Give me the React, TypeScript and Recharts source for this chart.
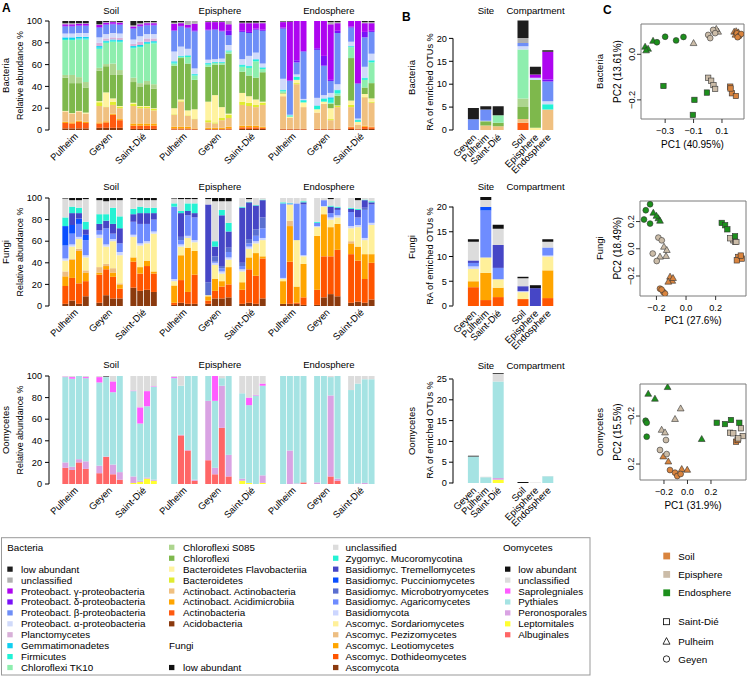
import React from 'react';
import { BarChart, Bar, XAxis, YAxis, ScatterChart, Scatter, ReferenceArea } from 'recharts';

const FONT = '"Liberation Sans", Arial, Helvetica, sans-serif';
const FS = 9.2;
const FL = 9.7;

const sites = ['Pulheim', 'Geyen', 'Saint-Dié'];
const compartments = ['Soil', 'Episphere', 'Endosphere'];
const sitesB = ['Geyen', 'Pulheim', 'Saint-Dié'];

// stack order bottom -> top
const bacteriaTaxa = ['Acidobacteria', 'Actinobacteria', 'Actinobact. Acidimicrobiia', 'Actinobact. Actinobacteria', 'Bacteroidetes', 'Bacteroidetes Flavobacteriia', 'Chloroflexi', 'Chloroflexi S085', 'Chloroflexi TK10', 'Firmicutes', 'Gemmatimonadetes', 'Planctomycetes', 'Proteobact. α-proteobacteria', 'Proteobact. β-proteobacteria', 'Proteobact. δ-proteobacteria', 'Proteobact. γ-proteobacteria', 'unclassified', 'low abundant'];
const bacteriaColors = ['#8B3A0E', '#FF5A10', '#FFA500', '#F0C080', '#E0EB30', '#FFF3A0', '#7EB84C', '#ADD58E', '#8EEEAE', '#20F2D6', '#10CFF0', '#D8B0D8', '#D0DAFA', '#6E8EF7', '#7A10F8', '#AE05F0', '#B0B0B0', '#1E1E1E'];

const fungiTaxa = ['Ascomycota', 'Ascomyc. Dothideomycetes', 'Ascomyc. Leotiomycetes', 'Ascomyc. Pezizomycetes', 'Ascomyc. Sordariomycetes', 'Basidiomycota', 'Basidiomyc. Agaricomycetes', 'Basidiomyc. Microbotryomycetes', 'Basidiomyc. Pucciniomycetes', 'Basidiomyc. Tremellomycetes', 'Zygomyc. Mucoromycotina', 'unclassified', 'low abundant'];
const fungiColors = ['#8B3A0E', '#FF5500', '#FFA500', '#EDBE82', '#FFF09A', '#CCD6FF', '#6E8CFF', '#5A6FD0', '#0A4FFF', '#4646C6', '#25F2D4', '#DCDCDC', '#111111'];

const oomycetesTaxa = ['Albuginales', 'Leptomitales', 'Peronosporales', 'Pythiales', 'Saprolegniales', 'unclassified', 'low abundant'];
const oomycetesColors = ['#FF6666', '#FFFF30', '#D9A3E3', '#A5E3E3', '#FF5CFF', '#DCDCDC', '#111111'];

// Panel A: rows = Pulheim x4, Geyen x4, Saint-Dié x4
const bacteriaSoil = [
  [1.5, 5, 1, 9.5, 0, 0.5, 30.5, 2.5, 32, 1, 1.5, 0, 3.5, 6.5, 0.5, 1.5, 1, 2],
  [1.5, 4.5, 1, 8, 0, 0.5, 27.5, 7.5, 32, 1, 1.5, 0, 3.5, 6.5, 0.5, 1.5, 1, 2],
  [1.5, 6, 1, 8.5, 0, 0.5, 25.5, 5.5, 34.5, 1, 1.5, 0, 3.5, 6.5, 0.5, 1.5, 0.5, 2],
  [1.5, 5, 1, 7.5, 0, 1, 23, 5, 39, 1, 1.5, 0, 3.5, 6.5, 0.5, 1.5, 0.5, 2],
  [2, 4, 1, 15, 3.5, 1, 28, 2.5, 17.5, 1, 1.5, 3, 5, 9, 0.5, 2, 0.5, 3],
  [2, 5, 1, 13, 0.5, 13, 24, 2, 19.5, 1, 1, 2, 4, 8.5, 0.5, 1.5, 0.5, 1],
  [2, 12, 1, 8, 3, 3, 22, 10, 20, 1, 1, 2, 4, 8, 0.5, 1.5, 0.5, 0.5],
  [2, 7, 1, 10, 1.5, 0.5, 28.5, 4.5, 25.5, 1, 1, 2, 4, 8, 0.5, 1.5, 0.5, 1],
  [1, 3, 2, 16, 2, 1, 19, 4, 27, 1, 1, 2, 4, 10, 0.5, 1.5, 1, 4],
  [1, 3, 2, 14, 1.5, 0.5, 18, 3, 33, 1, 1, 3, 5, 9, 0.5, 1.5, 1, 2],
  [1, 3, 2, 14, 1.5, 0.5, 20, 3, 34, 1, 1, 3, 4, 8, 0.5, 1.5, 1, 1],
  [1, 3, 2, 12, 1.5, 0.5, 18, 4, 37.5, 1, 1, 2.5, 4, 8, 0.5, 1.5, 1, 1],
];
const bacteriaEpisphere = [
  [0.5, 1, 1.5, 11, 0.5, 5.5, 39, 0, 2, 1, 1, 0, 9, 19, 0.5, 6, 1, 1.5],
  [0.5, 1, 1.5, 23, 0.5, 1.5, 38, 0, 1, 0.5, 0.5, 0, 8.5, 18.5, 0.5, 2.5, 1, 1],
  [0.5, 1, 1.5, 10, 0.5, 4.5, 43, 0, 6, 1, 0.5, 0, 6, 19, 0.5, 2.5, 3.5, 0],
  [0.5, 0.5, 0.5, 8.5, 0.5, 8.5, 27, 0, 4, 1, 0.5, 0, 5, 34, 1, 6, 2.5, 0],
  [0.5, 0.5, 1, 5, 2, 17, 32, 0, 2, 1, 0.5, 0, 3, 27, 0.5, 7, 0.5, 0.5],
  [0.5, 0.5, 1, 4, 1, 25, 28, 0, 1.5, 0.5, 0.5, 0, 2.5, 27, 0.5, 6.5, 0.5, 0.5],
  [0.5, 0.5, 1, 7, 2, 10, 39, 0, 1.5, 0.5, 0.5, 0, 3, 25, 0.5, 8, 0.5, 0.5],
  [0.5, 1, 1.5, 8, 3, 1, 55, 0, 2, 0.5, 0.5, 0, 5, 9, 4, 6, 3, 0],
  [1, 1.5, 1.5, 19, 3, 8, 19.5, 0, 4.5, 1.5, 0.5, 0, 5, 25, 1, 7, 0.5, 1.5],
  [1, 1.5, 1.5, 18, 3, 6, 19, 0, 7, 1.5, 0.5, 0, 9, 21, 1, 8, 0.5, 1.5],
  [1, 1.5, 1.5, 17, 2, 5, 20, 0, 15, 1.5, 0.5, 0, 6, 21, 1, 5, 0.5, 1.5],
  [1, 1, 1, 20, 2, 1, 27, 0, 3, 1, 0.5, 0, 3.5, 30, 1, 6, 1, 1],
];
const bacteriaEndosphere = [
  [0.5, 0.5, 0, 30, 0, 2.5, 0.5, 0, 1.5, 1, 0.5, 0, 10, 46, 1, 5, 0.5, 0.5],
  [0.5, 0.5, 0, 10, 0, 1, 0, 0, 0.5, 1, 0, 0, 0.5, 31, 0.5, 54, 0, 0.5],
  [0.5, 0.5, 0, 41, 1, 3, 0, 0, 0, 3, 0, 0, 2, 11, 2, 36, 0, 0],
  [0.5, 0.5, 0, 20, 0, 4, 0, 0, 0.5, 1.5, 0.5, 0, 1, 43.5, 0.5, 27.5, 0, 0],
  [0.5, 0.5, 0, 15, 0, 3, 0, 0, 0, 3, 0.5, 0, 7, 44, 1.5, 25, 0, 0],
  [0.5, 0.5, 0, 23, 0, 2, 0, 0, 0, 2.5, 0.5, 0, 3, 27, 9, 32, 0, 0],
  [0.5, 0.5, 0, 8, 1, 10, 4, 0, 1, 3.5, 1.5, 0, 4, 11, 1, 51, 2, 1],
  [0.5, 0.5, 0, 20, 1, 0.5, 9, 0, 2, 3, 0.5, 0, 5, 47, 2, 7, 1, 1],
  [1, 1.5, 0.5, 18, 2, 4, 39, 0, 10, 0.5, 0.5, 0, 4, 13, 1, 5, 0, 0],
  [0.5, 0.5, 0, 4, 0, 2.5, 0, 0, 0, 1.5, 0.5, 0, 1, 32, 0.5, 57, 0, 0],
  [1, 2, 1, 26, 0.5, 2.5, 6, 0, 7, 1.5, 0.5, 0, 10, 27, 5, 8, 1, 1],
  [1, 1.5, 0.5, 22, 1, 3, 14, 0, 19, 1.5, 0.5, 0, 6, 20, 1, 7, 1, 1],
];

const fungiSoil = [
  [2, 16.5, 9, 4.5, 10, 2, 12, 0, 18, 0, 8, 17.5, 0.5],
  [5, 21, 17, 0.5, 11.5, 2, 10, 0, 8, 11, 6, 6, 2],
  [2, 19, 30, 2, 9, 2, 12, 0, 5, 5, 5, 7, 2],
  [9, 14, 8, 2, 12, 2, 14, 0, 5, 5, 7, 21, 1],
  [3, 26, 2, 5, 27, 3, 4, 0, 0, 6, 9, 13, 2],
  [10, 24, 3, 2, 16, 2, 15, 0, 0, 7, 6, 12, 3],
  [7, 20, 4, 4, 25, 2, 5, 0, 0, 9, 15, 7, 2],
  [7, 9, 4, 1, 26, 3, 8, 0, 0, 14, 11, 15, 2],
  [17, 24, 4, 0, 19, 2, 12, 0, 0, 7, 5, 9, 1],
  [14, 16, 6, 0, 20, 2, 18, 0, 0, 10, 6, 6, 2],
  [15, 22, 5, 0, 16, 2, 16, 0, 0, 10, 5, 7, 2],
  [13, 17, 2, 0, 35, 2, 11, 0, 0, 6, 5, 7, 2],
];
const fungiEpisphere = [
  [1, 2, 16, 0, 4, 2, 67, 0, 0, 0, 3, 4.5, 0.5],
  [3, 21, 23, 0, 8, 2, 4, 3, 0, 22, 2, 11, 1],
  [2, 11, 41, 0, 9, 2, 19, 0, 0, 4, 7, 4, 1],
  [2, 27, 22, 0, 8, 2, 21, 0, 0, 4, 9, 4, 1],
  [2, 3, 4, 0, 1, 0, 0, 12, 0, 72, 0, 5, 1],
  [7, 7, 11, 0, 13, 2, 1, 5, 0, 9, 5, 37, 3],
  [7, 11, 5, 0, 7, 2, 3, 2, 0, 47, 5, 8, 3],
  [8, 12, 16, 0, 7, 2, 5, 4, 0, 15, 8, 20, 3],
  [2, 13, 7, 0, 10, 2, 3, 3, 0, 51, 1, 8, 0],
  [3, 31, 11, 0, 8, 2, 3, 4, 0, 34, 0.5, 2.5, 1],
  [2, 26, 21, 0, 9, 2, 5, 6, 0, 22, 0.5, 6.5, 0],
  [7, 37, 2, 0, 15, 2, 9, 10, 0, 16, 0.5, 1.5, 0],
];
const fungiEndosphere = [
  [2, 0, 21, 0, 2, 1, 69, 0, 0, 0, 1, 4, 0],
  [2, 39, 33, 5, 15, 0, 1, 0, 0, 0, 0.5, 4.5, 0],
  [2, 1, 15, 0, 43, 0, 34, 0, 0, 0, 0, 5, 0],
  [1, 7, 31, 0, 7, 1, 47, 0, 0, 2, 1, 3, 0],
  [1, 14, 50, 0, 8, 1, 3, 0, 0, 0, 1, 22, 0],
  [8, 38, 39, 0, 7, 0.5, 5.5, 0, 0, 0, 0, 2, 0],
  [11, 35, 27, 0, 7, 2, 4, 0, 0, 6, 1, 6, 1],
  [9, 43, 24, 0, 6, 2, 5, 0, 0, 2, 1, 8, 0],
  [3, 45, 10, 2, 12, 2, 13, 0, 0, 3, 1, 9, 0],
  [4, 38, 13, 0, 18, 2, 7, 0, 0, 7, 1, 8, 2],
  [3, 22, 23, 0, 13, 2, 26, 2, 0, 7, 0.5, 1.5, 0],
  [6, 34, 8, 0, 27, 2, 17, 0, 0, 2, 1, 3, 0],
];

const oomycetesSoil = [
  [15, 0, 5, 79, 0.5, 0.5, 0],
  [13, 0, 3, 81.5, 1.5, 1, 0],
  [20, 0, 3, 77, 0, 0, 0],
  [14, 0, 7, 77, 1, 1, 0],
  [10, 0, 7, 77, 5, 1, 0],
  [25, 0, 0.5, 73.5, 0, 0.5, 0.5],
  [9, 0, 9, 67, 10, 5, 0],
  [4, 0, 7, 89, 0, 0, 0],
  [0, 1, 6, 79, 0.5, 13.5, 0],
  [0, 2, 1, 53, 15, 29, 0],
  [0, 5, 1, 66, 14, 14, 0],
  [0, 3, 1, 86, 0.5, 9.5, 0],
];
const oomycetesEpisphere = [
  [0, 0, 0, 98, 1, 1, 0],
  [45, 0, 0.5, 45.5, 0, 9, 0],
  [31, 0, 0.5, 68.5, 0, 0, 0],
  [3, 0, 1, 96, 0, 0, 0],
  [22, 0, 55, 23, 0, 0, 0],
  [9, 0, 6, 62, 23, 0, 0],
  [52, 0, 39, 7, 0, 2, 0],
  [7, 0, 20, 73, 0, 0, 0],
  [0, 3, 2, 79, 0, 16, 0],
  [0, 1, 0, 72, 7, 20, 0],
  [0, 0, 0, 82, 0.5, 17.5, 0],
  [0, 1, 7, 83, 2, 7, 0],
];
const oomycetesEndosphere = [
  [0, 0, 0, 100, 0, 0, 0],
  [0, 0, 31, 69, 0, 0, 0],
  [0, 0, 0.5, 99.5, 0, 0, 0],
  [1.5, 0, 0, 98.5, 0, 0, 0],
  [0, 0, 1.5, 98.5, 0, 0, 0],
  [0, 0, 0, 100, 0, 0, 0],
  [7, 0, 75, 17, 0, 1, 0],
  [3, 0, 2, 95, 0, 0, 0],
  [0, 0, 0, 87, 0, 13, 0],
  [0, 0, 0.5, 92.5, 0, 7, 0],
  [0, 0, 1, 96, 0, 3, 0],
  [0, 0, 0, 97, 0, 3, 0],
];

// Panel B: RA of enriched OTUs (%), sites Geyen, Pulheim, Saint-Dié ; compartments Soil, Episphere, Endosphere
const bacteriaEnrichedSite = [
  [0, 0, 0, 0, 0, 0, 0, 0, 0, 0, 0, 0, 0, 2.35, 0, 0, 0, 2.45],
  [0, 0, 0, 1.0, 0, 0, 0.9, 0, 0, 0, 0, 0, 0.1, 2.5, 0, 0, 0, 0.7],
  [0, 0, 0, 0.8, 0, 0, 0.8, 0, 1.6, 0, 0, 0, 0, 0, 0, 0, 0, 2.0],
];
const bacteriaEnrichedCompartment = [
  [0, 1.6, 0, 0.8, 0, 0, 2.6, 1.9, 10.7, 0, 0, 0, 0.7, 0.7, 0, 0, 1.1, 3.8],
  [0, 0, 0, 0, 0, 0.5, 10.4, 0, 0, 0, 0, 0, 0.5, 0, 0, 0.7, 0, 1.7],
  [0, 0, 0, 4.5, 0, 0, 0, 0, 0, 1.1, 0, 0, 0.7, 4.3, 0.4, 6.1, 0, 0.3],
];
const fungiEnrichedSite = [
  [0, 3.8, 1.2, 0, 2.5, 0.5, 0.7, 0, 0, 0.5, 0, 3.8, 0.5],
  [0, 1.2, 5.5, 0, 3.1, 0, 9.5, 0, 0.7, 0, 0, 1.4, 0.6],
  [0, 1.8, 1.9, 0, 1.7, 0, 2.3, 0, 0, 4.6, 0, 3.3, 0.8],
];
const fungiEnrichedCompartment = [
  [0, 1.4, 0, 0, 1.4, 0.2, 0, 0, 0, 1.0, 0, 1.6, 0.3],
  [0, 0, 0, 0, 0, 0, 0, 0, 0, 3.6, 0, 0, 0.6],
  [0, 1.6, 5.6, 0, 2.8, 0.2, 1.6, 0, 0, 0, 0, 1.2, 0.5],
];
const oomycetesEnrichedSite = [
  [0, 0, 0, 6.4, 0, 0, 0.15],
  [0, 0, 0, 1.4, 0, 0.1, 0],
  [0, 0.8, 0.4, 23.2, 0, 1.8, 0.2],
];
const oomycetesEnrichedCompartment = [
  [0, 0, 0, 0, 0, 0, 0.25],
  [0, 0, 0, 0, 0, 0.1, 0],
  [0, 0, 0, 1.6, 0, 0.1, 0],
];

// Panel C: [compartment (0 Soil,1 Episphere,2 Endosphere), site (0 Pulheim,1 Geyen,2 Saint-Dié), PC1, PC2]
const bacteriaPC = [
  [2, 0, -0.441, 0.032], [2, 0, -0.42, 0.023], [2, 0, -0.434, 0.016], [2, 0, -0.385, 0.058],
  [2, 1, -0.358, 0.053], [2, 1, -0.3, 0.077], [2, 1, -0.223, 0.061], [2, 1, -0.171, 0.076],
  [2, 2, -0.312, -0.139], [2, 2, -0.094, -0.2], [2, 2, -0.006, -0.168], [2, 2, -0.105, -0.266],
  [1, 0, -0.1, 0.048], [1, 0, 0.052, 0.102], [1, 0, 0.073, 0.098], [1, 0, 0.06, 0.11],
  [1, 1, 0.003, 0.085], [1, 1, 0.017, 0.071], [1, 1, 0.038, 0.107], [1, 1, 0.052, 0.093],
  [1, 2, 0.003, -0.103], [1, 2, 0.024, -0.116], [1, 2, 0.04, -0.135], [1, 2, 0.052, -0.152],
  [0, 0, 0.186, 0.098], [0, 0, 0.2, 0.1], [0, 0, 0.215, 0.095], [0, 0, 0.195, 0.085],
  [0, 1, 0.205, 0.092], [0, 1, 0.221, 0.08], [0, 1, 0.235, 0.089], [0, 1, 0.21, 0.075],
  [0, 2, 0.158, -0.142], [0, 2, 0.17, -0.171], [0, 2, 0.198, -0.183], [0, 2, 0.16, -0.15],
];
const fungiPC = [
  [2, 1, -0.243, 0.327], [2, 1, -0.272, 0.283], [2, 1, -0.284, 0.215], [2, 1, -0.243, 0.185],
  [2, 0, -0.221, 0.263], [2, 0, -0.187, 0.222], [2, 0, -0.176, 0.204], [2, 0, -0.2, 0.24],
  [2, 2, 0.241, 0.19], [2, 2, 0.264, 0.173], [2, 2, 0.279, 0.143], [2, 2, 0.331, 0.092],
  [1, 1, -0.187, 0.082], [1, 1, -0.225, -0.035], [1, 1, -0.198, -0.09], [1, 1, -0.164, 0.062],
  [1, 0, -0.149, 0.013], [1, 0, -0.13, -0.011], [1, 0, -0.135, -0.055], [1, 0, -0.176, -0.06],
  [1, 2, 0.32, 0.062], [1, 2, 0.331, 0.05], [1, 2, 0.297, 0.077], [1, 2, 0.34, 0.05],
  [0, 0, -0.108, -0.207], [0, 0, -0.093, -0.237], [0, 0, -0.12, -0.244], [0, 0, -0.088, -0.217],
  [0, 1, -0.176, -0.293], [0, 1, -0.153, -0.318], [0, 1, -0.142, -0.329], [0, 1, -0.165, -0.3],
  [0, 2, 0.353, -0.06], [0, 2, 0.376, -0.072], [0, 2, 0.343, -0.085], [0, 2, 0.37, -0.05],
];
const oomycetesPC = [
  [2, 0, -0.334, -0.383], [2, 0, -0.277, -0.342], [2, 0, -0.169, -0.439], [2, 0, 0.121, -0.006],
  [2, 1, -0.356, -0.161], [2, 1, -0.347, -0.144], [2, 1, -0.347, -0.028],
  [2, 2, 0.249, -0.144], [2, 2, 0.319, -0.133], [2, 2, 0.37, -0.167], [2, 2, 0.441, -0.144],
  [1, 0, -0.058, -0.261], [1, 0, -0.106, -0.173], [1, 0, -0.22, -0.083], [1, 0, -0.191, -0.061],
  [1, 1, -0.183, 0.0], [1, 1, -0.234, 0.083], [1, 1, -0.177, 0.117],
  [1, 2, 0.455, -0.098], [1, 2, 0.362, -0.061], [1, 2, 0.39, -0.056], [1, 2, 0.47, -0.033], [1, 2, 0.432, -0.014],
  [0, 0, -0.206, 0.139], [0, 0, -0.163, 0.181], [0, 0, -0.049, 0.244], [0, 0, -0.002, 0.25],
  [0, 1, -0.149, 0.25], [0, 1, -0.106, 0.272], [0, 1, -0.087, 0.3], [0, 1, -0.058, 0.283],
  [0, 2, 0.413, 0.014], [0, 2, 0.427, 0.0],
];

const compartmentColors = ['#D9843E', '#CBBCA8', '#1C8F1C'];
const siteShapes = ['triangle', 'circle', 'square'];

// ---------- Panel A ----------
const PAD_A = 13;
const YW_A = 49;
const PLOT_A = 326;
const SLOT_A = (PLOT_A - PAD_A) / 46;

function buildRowsA(parts: number[][][], n: number) {
  const out: any[] = [];
  const empty = (key: string) => {
    const e: any = { key };
    for (let i = 0; i < n; i++) e['t' + i] = 0;
    return e;
  };
  parts.forEach((comp, c) => {
    if (c > 0) { out.push(empty(`cg${c}a`)); out.push(empty(`cg${c}b`)); }
    for (let s = 0; s < 3; s++) {
      if (s > 0) out.push(empty(`sg${c}${s}`));
      for (let r = 0; r < 4; r++) {
        const vals = comp[s * 4 + r];
        const e: any = { key: `b${c}${s}${r}` };
        vals.forEach((v, i) => { e['t' + i] = v; });
        if (r === 1) e.site = sites[s];
        out.push(e);
      }
    }
  });
  return out;
}

const RotLabel = ({ x, y, text }: any) => (
  <text x={x} y={y} transform={`rotate(-45 ${x} ${y})`} textAnchor="end" fontSize={9.5} fill="#000" fontFamily={FONT}>{text}</text>
);

function PanelARow({ top100, zero, taxa, colors, parts }: any) {
  const MT = 8;
  const plotH = zero - top100;
  const rows = buildRowsA(parts, taxa.length);
  const labels: Record<string, string> = {};
  rows.forEach((r) => { if (r.site) labels[r.key] = r.site; });
  const tick = (p: any) => {
    const lab = labels[p.payload.value];
    if (!lab) return <g />;
    return <RotLabel x={p.x + SLOT_A / 2 + 3} y={p.y + 7} text={lab} />;
  };
  return (
    <div style={{ position: 'absolute', left: 0, top: top100 - MT }}>
      <BarChart width={YW_A + PLOT_A} height={MT + plotH + 45} data={rows} margin={{ top: MT, right: 0, bottom: 0, left: 0 }} barCategoryGap={0.35}>
        <XAxis dataKey="key" type="category" interval={0} axisLine={false} tickLine={false} tickSize={0} tickMargin={0} height={45} padding={{ left: PAD_A, right: 0 }} tick={tick} />
        <YAxis type="number" domain={[0, 100]} ticks={[0, 20, 40, 60, 80, 100]} width={YW_A} tickSize={4} tickMargin={3} allowDataOverflow axisLine={{ stroke: '#000' }} tickLine={{ stroke: '#000' }} tick={{ fontSize: FS, fill: '#000' }} />
        {taxa.map((t: string, i: number) => (
          <Bar key={t} dataKey={'t' + i} stackId="s" fill={colors[i]} isAnimationActive={false} />
        ))}
      </BarChart>
    </div>
  );
}

// ---------- Panel B ----------
const B_LEFT = 423;
const B_YW = 30;
const B_SLOT = 12.4;
const B_PAD = 14.3;
const B_PLOTH = 110;

function PanelB({ zero, pxPerUnit, ticks, taxa, colors, siteVals, compVals }: any) {
  const MT = 8;
  const top = B_PLOTH / pxPerUnit;
  const rows: any[] = [];
  const mk = (key: string, label: string, vals: number[] | null) => {
    const e: any = { key, label };
    taxa.forEach((_: string, i: number) => { e['t' + i] = vals ? vals[i] : 0; });
    return e;
  };
  sitesB.forEach((s, i) => rows.push(mk('s' + i, s, siteVals[i])));
  rows.push(mk('gap', '', null));
  compartments.forEach((c, i) => rows.push(mk('c' + i, c, compVals[i])));
  const labels: Record<string, string> = {};
  rows.forEach((r) => { labels[r.key] = r.label; });
  const tick = (p: any) => {
    const lab = labels[p.payload.value];
    if (!lab) return <g />;
    return <RotLabel x={p.x + 3.5} y={p.y + 8} text={lab} />;
  };
  return (
    <div style={{ position: 'absolute', left: B_LEFT, top: zero - B_PLOTH - MT }}>
      <BarChart width={B_YW + B_PAD + 7 * B_SLOT} height={MT + B_PLOTH + 60} data={rows} margin={{ top: MT, right: 0, bottom: 0, left: 0 }} barCategoryGap={0.6}>
        <XAxis dataKey="key" type="category" interval={0} axisLine={false} tickLine={false} tickSize={0} tickMargin={0} height={60} padding={{ left: B_PAD, right: 0 }} tick={tick} />
        <YAxis type="number" domain={[0, top]} ticks={ticks} width={B_YW} tickSize={4} tickMargin={2} allowDataOverflow axisLine={false} tickLine={{ stroke: '#000' }} tick={{ fontSize: FS, fill: '#000' }} />
        {taxa.map((t: string, i: number) => (
          <Bar key={t} dataKey={'t' + i} stackId="s" fill={colors[i]} isAnimationActive={false} />
        ))}
      </BarChart>
    </div>
  );
}

// ---------- Panel C ----------
const fmt = (v: number) => (v < 0 ? '\u2212' + Math.abs(v).toFixed(1) : v.toFixed(1));
const C_LEFT = 596;

const makeShape = (kind: string) => (p: any) => {
  const { cx, cy, fill } = p;
  if (cx == null || cy == null) return <g />;
  if (kind === 'circle') return <circle cx={cx} cy={cy} r={2.9} fill={fill} stroke="#333" strokeWidth={0.6} />;
  if (kind === 'square') return <rect x={cx - 2.7} y={cy - 2.7} width={5.4} height={5.4} fill={fill} stroke="#333" strokeWidth={0.6} />;
  return <polygon points={`${cx},${cy - 3.8} ${cx + 3.4},${cy + 2.2} ${cx - 3.4},${cy + 2.2}`} fill={fill} stroke="#333" strokeWidth={0.6} />;
};

function PanelC({ box, domX, domY, ticksX, ticksY, reversed, points }: any) {
  const [L, T, R, B] = box;
  const MT = 5;
  const XH = 26;
  const xTick = (p: any) => (
    <text x={p.x} y={p.y} dy="0.71em" textAnchor="middle" fontSize={FS} fill="#000" fontFamily={FONT}>{fmt(p.payload.value)}</text>
  );
  const yTick = (p: any) => (
    <text x={p.x} y={p.y} transform={`rotate(-90 ${p.x} ${p.y})`} textAnchor="middle" fontSize={FS} fill="#000" fontFamily={FONT}>{fmt(p.payload.value)}</text>
  );
  const groups: any[] = [];
  for (let c = 0; c < 3; c++) {
    for (let s = 0; s < 3; s++) {
      const data = points.filter((p: number[]) => p[0] === c && p[1] === s).map((p: number[]) => ({ x: p[2], y: p[3] }));
      groups.push({ c, s, data });
    }
  }
  return (
    <div style={{ position: 'absolute', left: C_LEFT, top: T - MT }}>
      <ScatterChart width={R - C_LEFT + 2} height={MT + (B - T) + XH} margin={{ top: MT, right: 2, bottom: 0, left: 0 }}>
        <XAxis type="number" dataKey="x" domain={domX} ticks={ticksX} allowDataOverflow axisLine={false} tickSize={4} tickMargin={4} height={XH} tickLine={{ stroke: '#333' }} tick={xTick} interval={0} />
        <YAxis type="number" dataKey="y" domain={domY} ticks={ticksY} reversed={reversed} allowDataOverflow axisLine={false} width={L - C_LEFT} tickSize={4} tickMargin={2} tickLine={{ stroke: '#333' }} tick={yTick} interval={0} />
        <ReferenceArea x1={domX[0]} x2={domX[1]} y1={domY[0]} y2={domY[1]} fill="none" stroke="#7a7a7a" strokeWidth={1} ifOverflow="visible" />
        {groups.map((g) => (
          <Scatter key={`${g.c}-${g.s}`} data={g.data} shape={makeShape(siteShapes[g.s])} fill={compartmentColors[g.c]} isAnimationActive={false} />
        ))}
      </ScatterChart>
    </div>
  );
}

// ---------- Legend ----------
const revB = [...bacteriaTaxa].map((t, i) => ({ t, c: bacteriaColors[i] })).reverse();
const revF = [...fungiTaxa].map((t, i) => ({ t, c: fungiColors[i] })).reverse();
const revO = [...oomycetesTaxa].map((t, i) => ({ t, c: oomycetesColors[i] })).reverse();
const legendColumns = [
  { sx: 7.3, tx: 21, entries: [{ h: 'Bacteria' }, null, ...revB.slice(0, 10)] },
  { sx: 169, tx: 183, entries: [...revB.slice(10), null, { h: 'Fungi' }, null, revF[0]] },
  { sx: 333, tx: 345.5, entries: [...revF.slice(1)] },
  { sx: 505, tx: 518.3, entries: [{ h: 'Oomycetes' }, null, ...revO] },
];

const T = ({ x, y, children, anchor = 'middle', rot = 0, size = FL, weight = 'normal' }: any) => (
  <text x={x} y={y} textAnchor={anchor} dominantBaseline="central" fontSize={size} fontWeight={weight} fill="#000" fontFamily={FONT} transform={rot ? `rotate(${rot} ${x} ${y})` : undefined}>{children}</text>
);

export default function App() {
  const rowsA = [
    { name: 'Bacteria', top100: 21, zero: 130, taxa: bacteriaTaxa, colors: bacteriaColors, parts: [bacteriaSoil, bacteriaEpisphere, bacteriaEndosphere], titleY: 10 },
    { name: 'Fungi', top100: 198, zero: 306, taxa: fungiTaxa, colors: fungiColors, parts: [fungiSoil, fungiEpisphere, fungiEndosphere], titleY: 186 },
    { name: 'Oomycetes', top100: 376, zero: 484, taxa: oomycetesTaxa, colors: oomycetesColors, parts: [oomycetesSoil, oomycetesEpisphere, oomycetesEndosphere], titleY: 364 },
  ];
  const compCenters = [0, 1, 2].map((c) => YW_A + PAD_A + c * 16 * SLOT_A + 7 * SLOT_A + 1.5);
  const bRows = [
    { zero: 130, ppu: 4.58, ticks: [0, 5, 10, 15, 20], taxa: bacteriaTaxa, colors: bacteriaColors, sv: bacteriaEnrichedSite, cv: bacteriaEnrichedCompartment, titleY: 10, name: 'Bacteria', nameY: 77.5, raY: 82 },
    { zero: 305.7, ppu: 4.95, ticks: [0, 5, 10, 15, 20], taxa: fungiTaxa, colors: fungiColors, sv: fungiEnrichedSite, cv: fungiEnrichedCompartment, titleY: 186.7, name: 'Fungi', nameY: 247, raY: 256 },
    { zero: 483.3, ppu: 4.16, ticks: [0, 5, 10, 15, 20, 25], taxa: oomycetesTaxa, colors: oomycetesColors, sv: oomycetesEnrichedSite, cv: oomycetesEnrichedCompartment, titleY: 365, name: 'Oomycetes', nameY: 431, raY: 430 },
  ];
  const bAxisX = B_LEFT + B_YW;
  const bSiteCenter = B_LEFT + B_YW + B_PAD + 1.5 * B_SLOT;
  const bCompCenter = B_LEFT + B_YW + B_PAD + 5.5 * B_SLOT;
  const cPanels = [
    { box: [641, 24, 744, 119], domX: [-0.47, 0.255], domY: [-0.284, 0.133], ticksX: [-0.3, -0.1, 0.1], ticksY: [-0.2, 0.0], reversed: false, points: bacteriaPC, name: 'Bacteria', pc1: 'PC1 (40.95%)', pc2: 'PC2 (13.61%)' },
    { box: [640, 200.7, 746, 295.7], domX: [-0.311, 0.405], domY: [-0.347, 0.351], ticksX: [-0.2, 0.0, 0.2], ticksY: [-0.2, 0.0, 0.2], reversed: false, points: fungiPC, name: 'Fungi', pc1: 'PC1 (27.6%)', pc2: 'PC2 (18.49%)' },
    { box: [640, 384, 746, 480], domX: [-0.404, 0.498], domY: [-0.467, 0.333], ticksX: [-0.2, 0.0, 0.2], ticksY: [-0.2, 0.2], reversed: true, points: oomycetesPC, name: 'Oomycetes', pc1: 'PC1 (31.9%)', pc2: 'PC2 (15.5%)' },
  ];
  const LY0 = 547.3;
  const LDY = 10.93;
  return (
    <div style={{ position: 'absolute', left: 0, top: 0, width: 747, height: 676, background: '#fff', fontFamily: FONT, overflow: 'hidden' }}>
      {rowsA.map((r) => (
        <PanelARow key={r.name} top100={r.top100} zero={r.zero} taxa={r.taxa} colors={r.colors} parts={r.parts} />
      ))}
      {bRows.map((r) => (
        <PanelB key={r.name} zero={r.zero} pxPerUnit={r.ppu} ticks={r.ticks} taxa={r.taxa} colors={r.colors} siteVals={r.sv} compVals={r.cv} />
      ))}
      {cPanels.map((p) => (
        <PanelC key={p.name} {...p} />
      ))}
      <svg width={747} height={676} style={{ position: 'absolute', left: 0, top: 0, pointerEvents: 'none' }}>
        <T x={2} y={8} anchor="start" size={12} weight="bold">A</T>
        <T x={402} y={17} anchor="start" size={12} weight="bold">B</T>
        <T x={603} y={9.5} anchor="start" size={12} weight="bold">C</T>
        {rowsA.map((r) => (
          <g key={r.name}>
            {compartments.map((c, i) => (
              <T key={c} x={compCenters[i]} y={r.titleY} size={9.5}>{c}</T>
            ))}
            <T x={5.5} y={(r.top100 + r.zero) / 2} rot={-90} size={9.5}>{r.name}</T>
            <T x={20} y={(r.top100 + r.zero) / 2} rot={-90} size={8.9}>Relative abundance %</T>
          </g>
        ))}
        {bRows.map((r) => (
          <g key={r.name}>
            <line x1={bAxisX} x2={bAxisX} y1={r.zero} y2={r.zero - r.ticks[r.ticks.length - 1] * r.ppu} stroke="#000" strokeWidth={1} />
            <T x={bSiteCenter} y={r.titleY} size={9.6}>Site</T>
            <T x={bCompCenter} y={r.titleY} size={9.6}>Compartment</T>
            <T x={411.7} y={r.nameY} rot={-90} size={9.5}>{r.name}</T>
            <T x={430} y={r.raY} rot={-90} size={9.2}>RA of enriched OTUs %</T>
          </g>
        ))}
        {cPanels.map((p) => (
          <g key={p.name}>
            <T x={599.5} y={(p.box[1] + p.box[3]) / 2} rot={-90} size={9.5}>{p.name}</T>
            <T x={617.5} y={(p.box[1] + p.box[3]) / 2} rot={-90} size={10}>{p.pc2}</T>
            <T x={(p.box[0] + p.box[2]) / 2} y={p.box[3] + 25} size={10}>{p.pc1}</T>
          </g>
        ))}
        <rect x={1.5} y={537.7} width={588.5} height={137.3} fill="none" stroke="#999" strokeWidth={1} />
        {legendColumns.map((col, ci) => (
          <g key={ci}>
            {col.entries.map((e: any, ri: number) => {
              if (!e) return null;
              const y = LY0 + ri * LDY;
              if (e.h) return <T key={ri} x={col.sx - (ci === 3 ? 2 : 0)} y={y} anchor="start" size={9.8}>{e.h}</T>;
              return (
                <g key={ri}>
                  <rect x={col.sx} y={y - 2.6} width={5.4} height={5.2} fill={e.c} />
                  <T x={col.tx} y={y} anchor="start" size={9.8}>{e.t}</T>
                </g>
              );
            })}
          </g>
        ))}
        {compartments.map((c, i) => (
          <g key={c}>
            <rect x={663.3} y={556 + i * 18.4 - 3.4} width={6.8} height={6.8} fill={compartmentColors[i]} />
            <T x={678.3} y={556 + i * 18.4} anchor="start" size={9.8}>{c}</T>
          </g>
        ))}
        <rect x={663.5} y={618.7} width={6} height={6} fill="none" stroke="#000" strokeWidth={0.8} />
        <T x={678.3} y={621.7} anchor="start" size={9.8}>Saint-Dié</T>
        <polygon points="663,644.2 670,644.2 666.5,637.6" fill="none" stroke="#000" strokeWidth={0.8} />
        <T x={678.3} y={641} anchor="start" size={9.8}>Pulheim</T>
        <circle cx={666.5} cy={659} r={3.2} fill="none" stroke="#000" strokeWidth={0.8} />
        <T x={678.3} y={659} anchor="start" size={9.8}>Geyen</T>
      </svg>
    </div>
  );
}
